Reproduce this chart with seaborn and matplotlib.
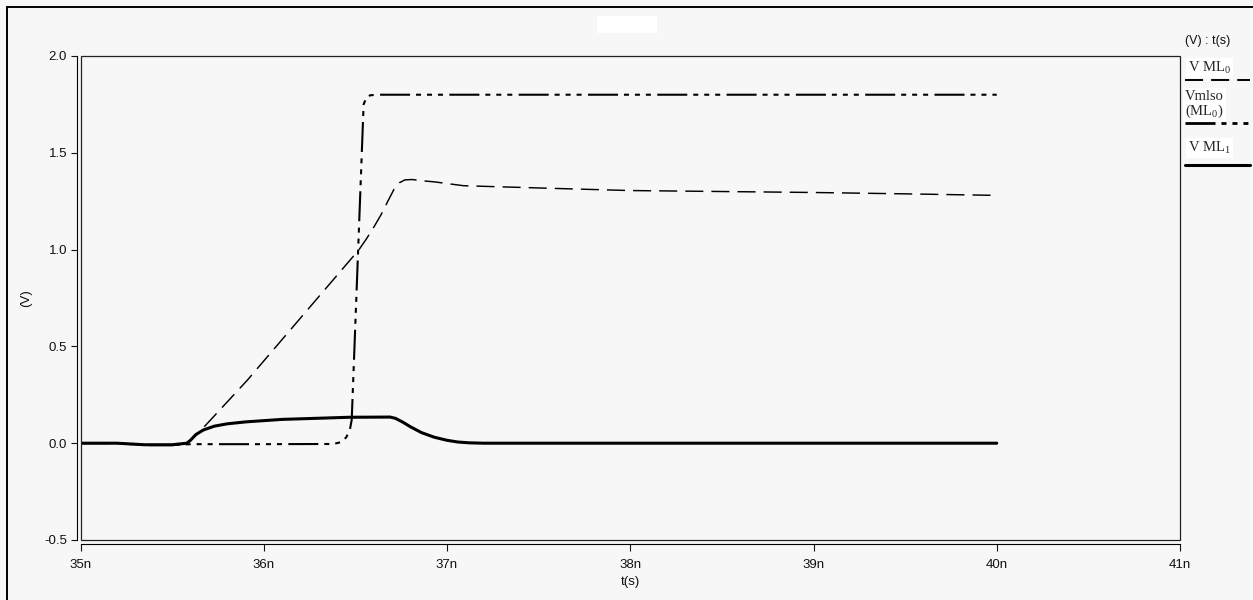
import numpy as np
import pandas as pd
import matplotlib
matplotlib.use("Agg")
import matplotlib.pyplot as plt
import seaborn as sns
from matplotlib.lines import Line2D
from matplotlib.patches import Rectangle
from matplotlib.ticker import FixedLocator, FixedFormatter

# ---------------- data (time in ns, voltage in V) ----------------
t_ml0 = [35.0, 35.2, 35.35, 35.5, 35.58, 35.63, 35.69, 35.91, 36.2, 36.38, 36.52,
         36.56, 36.6, 36.64, 36.68, 36.71, 36.74, 36.77, 36.81, 36.87, 36.93,
         37.09, 37.55, 38.0, 38.5, 39.0, 39.5, 40.0]
v_ml0 = [0.0, 0.0, -0.01, -0.01, 0.0, 0.04, 0.10, 0.325, 0.646, 0.845, 1.0,
         1.055, 1.115, 1.18, 1.255, 1.31, 1.345, 1.36, 1.362, 1.355, 1.35,
         1.33, 1.317, 1.305, 1.30, 1.295, 1.288, 1.28]

t_mlso = [35.0, 35.2, 35.35, 35.5, 35.6, 36.0, 36.38, 36.42, 36.45, 36.47, 36.48,
          36.51, 36.545, 36.56, 36.58, 36.62, 37.0, 38.0, 39.0, 40.0]
v_mlso = [0.0, 0.0, -0.01, -0.01, -0.005, -0.005, -0.004, 0.005, 0.03, 0.07, 0.12,
          0.87, 1.75, 1.785, 1.797, 1.8, 1.8, 1.8, 1.8, 1.8]

t_ml1 = [35.0, 35.2, 35.35, 35.5, 35.58, 35.6, 35.63, 35.67, 35.73, 35.8, 35.9,
         36.1, 36.47, 36.69, 36.72, 36.76, 36.8, 36.86, 36.93, 37.0, 37.06,
         37.12, 37.2, 38.0, 39.0, 40.0]
v_ml1 = [0.0, 0.0, -0.008, -0.008, 0.0, 0.015, 0.045, 0.068, 0.088, 0.1, 0.11,
         0.123, 0.134, 0.135, 0.128, 0.108, 0.085, 0.055, 0.031, 0.015, 0.006,
         0.002, 0.0, 0.0, 0.0, 0.0]

series_names = ["V ML0", "Vmlso (ML0)", "V ML1"]
x_ticks = [35, 36, 37, 38, 39, 40, 41]
x_tick_labels = ["35n", "36n", "37n", "38n", "39n", "40n", "41n"]
y_ticks = [-0.5, 0.0, 0.5, 1.0, 1.5, 2.0]
y_tick_labels = ["-0.5", "0.0", "0.5", "1.0", "1.5", "2.0"]

# ---------------- style ----------------
sns.set_theme(style="white")
plt.rcParams['font.family'] = ['Liberation Sans', 'DejaVu Sans']
plt.rcParams['axes.unicode_minus'] = False
plt.rcParams['lines.scale_dashes'] = False
plt.rcParams['mathtext.fontset'] = 'custom'
plt.rcParams['mathtext.rm'] = 'Liberation Serif'
plt.rcParams['mathtext.it'] = 'Liberation Serif'
plt.rcParams['mathtext.bf'] = 'Liberation Serif'

BG = '#f7f7f7'
W, H = 1253, 600
fig = plt.figure(figsize=(W / 100, H / 100), dpi=100, facecolor=BG)
ax = fig.add_axes([80.5 / W, 60 / H, 1099.5 / W, 484 / H])
ax.set_facecolor(BG)

df = pd.concat([
    pd.DataFrame({"t": t_ml0, "V": v_ml0, "series": series_names[0]}),
    pd.DataFrame({"t": t_mlso, "V": v_mlso, "series": series_names[1]}),
    pd.DataFrame({"t": t_ml1, "V": v_ml1, "series": series_names[2]}),
])

styles = {
    series_names[0]: dict(lw=1.05, dashes=(13, 5.8)),
    series_names[1]: dict(lw=1.5, dashes=(21.6, 4.3, 3.6, 4.3, 3.6, 4.3, 3.6, 4.6)),
    series_names[2]: dict(lw=2.2, dashes=None),
}
for name in series_names:
    sub = df[df["series"] == name]
    sns.lineplot(data=sub, x="t", y="V", ax=ax, color="black",
                 lw=styles[name]["lw"], estimator=None, sort=False, legend=False)
    line = ax.lines[-1]
    if styles[name]["dashes"] is not None:
        line.set_dashes(styles[name]["dashes"])
    line.set_dash_capstyle('butt')
    line.set_solid_joinstyle('round')
    line.set_dash_joinstyle('round')

ax.set_xlim(35, 41)
ax.set_ylim(-0.5, 2.0)
ax.xaxis.set_major_locator(FixedLocator(x_ticks))
ax.xaxis.set_major_formatter(FixedFormatter(x_tick_labels))
ax.yaxis.set_major_locator(FixedLocator(y_ticks))
ax.yaxis.set_major_formatter(FixedFormatter(y_tick_labels))

for s in ['top', 'right']:
    ax.spines[s].set_visible(False)
ax.spines['left'].set_position(('outward', 2.3))
ax.spines['bottom'].set_position(('outward', 2.9))
for s in ['left', 'bottom']:
    ax.spines[s].set_linewidth(0.8)
    ax.spines[s].set_color('black')

ax.add_patch(Rectangle((0, 0), 1, 1, transform=ax.transAxes, fill=False,
                       lw=0.9, ec='#222222', clip_on=False, zorder=3))

ax.tick_params(axis='y', left=True, direction='out', length=4.3, width=0.8,
               pad=3, labelsize=9.5, colors='#111111')
ax.tick_params(axis='x', bottom=True, direction='out', length=5, width=0.8,
               pad=6, labelsize=9.5, colors='#111111')

ax.set_xlabel('t(s)', fontsize=9.5, color='#111111')
ax.xaxis.set_label_coords(0.5, -0.074)
ax.set_ylabel('(V)', fontsize=9.5, color='#111111')
ax.yaxis.set_label_coords(-0.044, 0.5)


# ---------------- legend panel (figure coordinates) ----------------
def fx(px):
    return px / W


def fy(py):
    return 1 - py / H


serif = ['Liberation Serif', 'DejaVu Serif']
fig.text(fx(1185), fy(41), "(V) : t(s)", ha='left', va='center', fontsize=9,
         color='#111111')
tb = dict(fc='white', ec='none', pad=1.5)
fig.text(fx(1188), fy(68), r"V ML$_\mathrm{0}$", ha='left', va='center', fontsize=10.5,
         family=serif, bbox=tb)
fig.text(fx(1185), fy(97), "Vmlso", ha='left', va='center', fontsize=10.5,
         family=serif, bbox=tb)
fig.text(fx(1185), fy(111), r"(ML$_\mathrm{0}$)", ha='left', va='center', fontsize=10.5,
         family=serif, bbox=tb)
fig.text(fx(1188), fy(148), r"V ML$_\mathrm{1}$", ha='left', va='center', fontsize=10.5,
         family=serif, bbox=tb)

leg_lines = [
    (80, styles[series_names[0]], 1.4),
    (123, styles[series_names[1]], 2.0),
    (165, styles[series_names[2]], 2.2),
]
for py, st, lw in leg_lines:
    ln = Line2D([fx(1185), fx(1250)], [fy(py), fy(py)], transform=fig.transFigure,
                color='black', lw=lw)
    if st["dashes"] is not None:
        ln.set_dashes(st["dashes"])
    ln.set_dash_capstyle('butt')
    fig.add_artist(ln)

# figure border (top and left) and the white patch at the top
fig.add_artist(Line2D([fx(7), 1.0], [fy(7), fy(7)], transform=fig.transFigure,
                      color='black', lw=1.4))
fig.add_artist(Line2D([fx(7), fx(7)], [0.0, fy(7)], transform=fig.transFigure,
                      color='black', lw=1.4))
fig.add_artist(Rectangle((fx(597), fy(33)), 60 / W, 17 / H,
                         transform=fig.transFigure, fc='white', ec='none'))

fig.savefig('out.png', dpi=100, facecolor=BG)
